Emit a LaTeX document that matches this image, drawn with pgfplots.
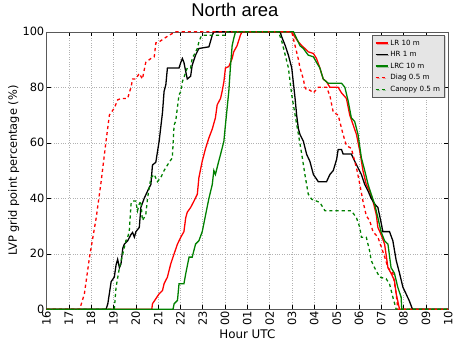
\documentclass[border=0pt]{standalone}
\usepackage{fontspec}
\setmainfont{DejaVu Sans}
\newfontfamily\titlefont{Liberation Sans}
\usepackage{pgfplots}
\pgfplotsset{compat=1.18}
\usetikzlibrary{shadows}
\definecolor{mplgreen}{rgb}{0,0.5,0}
\definecolor{legbg}{rgb}{0.9,0.9,0.9}
\begin{document}
\begin{tikzpicture}
\begin{axis}[
  scale only axis, width=404bp, height=279bp,
  xmin=16, xmax=34, ymin=0, ymax=100,
  xtick={16,17,...,34},
  xticklabels={16,17,18,19,20,21,22,23,00,01,02,03,04,05,06,07,08,09,10},
  ytick={0,20,40,60,80,100},
  /pgf/number format/assume math mode=true,
  tick label style={font=\fontsize{11.5}{13}\selectfont},
  xticklabel style={rotate=90, anchor=east, inner sep=1.5bp},
  yticklabel style={inner sep=2bp},
  grid=major,
  major grid style={dotted, gray!60},
  axis line style={gray!70!black},
  tick style={black, thin},
  tick align=inside,
  title={North area},
  title style={font=\titlefont\fontsize{18.6}{20}\selectfont, at={(axis description cs:0.5,1)}, anchor=base, yshift=9.3bp, xshift=-12.5bp},
  xlabel={Hour UTC},
  xlabel style={font=\fontsize{12}{14}\selectfont, at={(axis description cs:0.5,0)}, anchor=base, yshift=-29bp},
  ylabel={LVP grid point percentage (\%)},
  ylabel style={font=\fontsize{11.5}{13}\selectfont, at={(axis description cs:0,0.5)}, anchor=center, yshift=33bp},
  legend cell align=left,
  legend style={at={(axis description cs:1,1)}, anchor=north east, xshift=-3.4bp, yshift=-3.3bp,
    font=\fontsize{7.2}{8.6}\selectfont, fill=legbg, draw=gray!70!black, drop shadow={opacity=0.3, shadow xshift=1bp, shadow yshift=-1bp},
    row sep=0.8bp, inner sep=2.5bp},
  legend image code/.code={\draw[#1, line width=1.4bp] (0bp,0bp) -- (12bp,0bp);},
  every axis plot/.append style={line width=1.3bp},
]
\addplot[red] coordinates {(16,0)(20.72,0)(20.75,2)(20.9,3.8)(21.05,5.6)(21.2,6.8)(21.27,9.2)(21.42,11.6)(21.57,16.4)(21.72,20)(21.87,23.5)(22.02,26)(22.16,28)(22.24,33)(22.31,35)(22.46,36.7)(22.61,39)(22.76,41.5)(22.83,47.4)(22.98,53.4)(23.13,58)(23.28,61.8)(23.43,65)(23.57,69)(23.65,73.7)(23.8,76)(23.87,78.5)(23.95,82)(24.02,87)(24.17,87.5)(24.32,90.4)(24.39,92.8)(24.54,95)(24.69,98.8)(24.76,100)(26.99,100)(27.14,98)(27.29,96.4)(27.44,95)(27.58,94)(27.73,92.8)(27.96,92.2)(28.1,90.4)(28.25,87)(28.4,83)(28.55,82)(28.7,80)(29.07,80)(29.22,78)(29.44,76)(29.59,70)(29.74,66.5)(29.89,63)(30.04,57)(30.18,50)(30.33,45)(30.48,42.6)(30.63,39)(30.78,34)(30.85,29.5)(30.99,27)(31.15,23.5)(31.3,15)(31.44,13)(31.59,10.4)(31.67,5.6)(31.82,0)(34,0)};
\addlegendentry{LR 10 m}
\addplot[black] coordinates {(16,0)(18.67,0)(18.75,2)(18.9,10)(19.04,11.6)(19.12,16)(19.19,18)(19.27,15)(19.34,16.4)(19.42,22)(19.49,23.5)(19.64,24.7)(19.79,27)(19.86,27.7)(19.94,26)(20.01,28)(20.16,29.5)(20.23,36.7)(20.38,40)(20.53,42.6)(20.6,43.8)(20.68,45)(20.75,52)(20.9,53)(21.05,60.6)(21.2,71)(21.27,78.5)(21.35,81)(21.42,87)(21.94,87)(22.02,89)(22.09,90.4)(22.16,89)(22.24,85.7)(22.31,83)(22.46,84)(22.53,88)(22.68,91.6)(22.83,94)(23.28,94.6)(23.43,98.8)(23.5,100)(26.47,100)(26.55,98)(26.7,95)(26.84,91.6)(26.99,87)(27.14,76)(27.21,70)(27.29,65)(27.36,63)(27.51,60.6)(27.66,55.8)(27.8,53.4)(27.96,48.6)(28.18,46)(28.55,46)(28.7,48.6)(28.85,50)(29.0,54)(29.07,57.6)(29.22,57.6)(29.29,56)(29.66,56)(29.81,53.4)(29.96,51)(30.11,48.6)(30.26,45)(30.41,42.6)(30.55,40)(30.7,38)(30.85,36.7)(31.0,31)(31.07,28)(31.37,28)(31.52,24.7)(31.67,17.6)(31.82,13)(31.97,8)(32.11,5.6)(32.26,3)(32.4,0)(34,0)};
\addlegendentry{HR 1 m}
\addplot[mplgreen] coordinates {(16,0)(21.67,0)(21.72,2)(21.87,3.2)(21.94,9.2)(22.16,9.2)(22.24,12.8)(22.39,18.8)(22.53,18.8)(22.68,23.5)(22.83,24.7)(22.98,28)(23.13,34)(23.28,40)(23.43,45)(23.5,50)(23.57,48.6)(23.72,53.4)(23.8,55.8)(23.95,60.6)(24.02,66.5)(24.17,78.5)(24.24,87)(24.32,95)(24.39,97.6)(24.47,100)(27.07,100)(27.21,97.6)(27.36,95)(27.51,94)(27.73,91.6)(27.96,91)(28.1,89)(28.25,87)(28.4,83)(28.62,81.5)(29.22,81.5)(29.37,80)(29.52,75)(29.66,69)(29.81,67.7)(29.96,63)(30.11,54.6)(30.26,50)(30.41,45)(30.55,41.5)(30.7,38)(30.85,33)(30.99,28)(31.15,24.7)(31.3,23.5)(31.44,15)(31.59,13)(31.74,8)(31.89,4.4)(31.92,0)(34,0)};
\addlegendentry{LRC 10 m}
\addplot[red, dash pattern=on 3.2bp off 3bp] coordinates {(16,0)(17.49,0)(17.7,5.6)(17.93,18.8)(18.23,33)(18.45,46)(18.67,60.6)(18.82,70)(19.04,72.5)(19.19,75.5)(19.34,76)(19.64,76)(19.71,78)(19.79,80)(19.86,83)(20.0,83)(20.16,85)(20.3,83)(20.45,89)(20.68,90.4)(20.83,91)(20.9,96)(21.05,96.4)(21.27,97.6)(21.5,98.8)(21.64,99.4)(21.8,100)(26.99,100)(27.14,95)(27.29,90)(27.36,87)(27.51,83)(27.58,80)(27.66,79)(27.8,79)(27.96,78)(28.18,80)(28.55,80)(28.7,77)(28.85,71)(29.07,70)(29.29,63)(29.44,59)(29.66,58)(29.89,51)(30.04,45)(30.18,39)(30.33,33.7)(30.48,32)(30.63,28)(30.85,26)(31.15,19)(31.3,15)(31.52,13)(31.67,5.6)(31.74,0)(34,0)};
\addlegendentry{Diag 0.5 m}
\addplot[mplgreen, dash pattern=on 3.2bp off 3bp] coordinates {(16,0)(19.04,0)(19.12,8)(19.27,15)(19.42,20)(19.56,24.7)(19.64,26)(19.71,28)(19.79,38)(19.86,39)(20.0,39)(20.08,35.5)(20.16,38)(20.23,39)(20.3,32)(20.45,34)(20.53,40)(20.68,47.4)(20.83,48.6)(20.97,46)(21.12,47.4)(21.27,50)(21.5,53)(21.64,54.6)(21.72,66.5)(21.79,67.7)(21.94,77.3)(22.02,78.5)(22.09,82)(22.31,87)(22.46,87)(22.53,90.4)(22.76,94)(22.83,96.4)(22.91,98)(22.98,98.8)(24.02,98.8)(24.09,100)(26.4,100)(26.55,96.4)(26.7,91.6)(26.84,87)(26.99,77.3)(27.14,70)(27.29,63)(27.44,55.8)(27.58,48.6)(27.73,41.5)(27.88,39.7)(28.1,39)(28.25,38.5)(28.48,35.5)(29.66,35.5)(29.89,33)(30.04,29.5)(30.11,26)(30.33,26)(30.48,21)(30.55,17.6)(30.7,15)(30.93,11.6)(31.22,11)(31.37,9.2)(31.52,4.4)(31.67,0)(34,0)};
\addlegendentry{Canopy 0.5 m}
\end{axis}
\useasboundingbox (current axis.south west) ++(-46.7bp,-32bp) rectangle ([xshift=3.3bp,yshift=30bp]current axis.north east);
\end{tikzpicture}
\end{document}
